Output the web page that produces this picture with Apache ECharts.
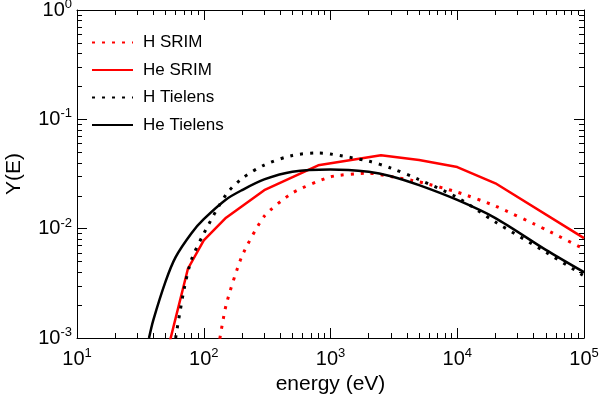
<!DOCTYPE html>
<html>
<head>
<meta charset="utf-8">
<script src="https://cdn.jsdelivr.net/npm/echarts@6/dist/echarts.min.js"></script>
<style>
  html, body { margin: 0; padding: 0; background: #fff; }
  #chart { width: 600px; height: 395px; }
</style>
</head>
<body>
<div id="chart"></div>
<script>
// energies (eV) and sputtering yields
const hSrimE = [130, 150, 200, 300, 500, 1000, 2000, 3000, 5000, 10000, 20000, 50000, 100000]
const hSrimY = [0.0008, 0.002, 0.0056, 0.013, 0.0212, 0.0298, 0.0322, 0.0300, 0.0268, 0.0216, 0.0161, 0.0098, 0.0065]

const heSrimE = [50, 75, 100, 150, 300, 800, 2500, 5000, 10000, 20000, 100000]
const heSrimY = [0.00065, 0.0043, 0.0078, 0.0126, 0.0225, 0.038, 0.047, 0.0425, 0.0366, 0.026, 0.0082]

const hTielensE = [60, 70, 80, 100, 150, 200, 300, 500, 800, 1000, 2000, 3000, 5000, 10000, 20000, 50000, 100000]
const hTielensY = [0.001, 0.0028, 0.0052, 0.009, 0.0205, 0.0287, 0.0382, 0.0467, 0.0492, 0.0482, 0.0414, 0.0358, 0.0281, 0.0193, 0.0115, 0.0061, 0.0037]

const heTielensE = [37, 40, 50, 60, 80, 100, 150, 200, 300, 500, 1000, 2000, 3000, 5000, 10000, 20000, 50000, 100000]
const heTielensY = [0.001, 0.00146, 0.0033, 0.0055, 0.0091, 0.0122, 0.0185, 0.0225, 0.0282, 0.0332, 0.0348, 0.0331, 0.0302, 0.025, 0.0183, 0.0125, 0.0064, 0.004]

// axis ticks
const xMajor = [10, 100, 1000, 10000, 100000]
const yMajor = [0.001, 0.01, 0.1, 1]

const font = 'Liberation Sans, Arial, Helvetica, sans-serif'
const red = '#ff0000'
const black = '#000000'

function minorsOf(majors) {
	const out = []
	for (let i = 0; i < majors.length - 1; i++) {
		for (let k = 2; k <= 9; k++) out.push(+(majors[i] * k).toPrecision(3))
	}
	return out
}
const xMinor = minorsOf(xMajor)
const yMinor = minorsOf(yMajor)

const pairs = (xs, ys) => xs.map((x, i) => [x, ys[i]])

const rich = {
	b: { fontSize: 20, fontFamily: font, color: black },
	s: { fontSize: 13, fontFamily: font, color: black, padding: [0, 0, 11, 0] }
}
const powLabel = (v) => '{b|10}{s|' + Math.round(Math.log10(v)) + '}'

function makeAxis(kind, pos, values, len, labels) {
	const isX = kind === 'x'
	const ax = {
		type: 'log',
		logBase: 10,
		position: pos,
		min: isX ? 10 : 0.001,
		max: isX ? 100000 : 1,
		splitLine: { show: false },
		axisLine: { show: labels, lineStyle: { color: black, width: 1 } },
		axisTick: {
			show: true,
			inside: true,
			length: len,
			customValues: values,
			lineStyle: { color: black, width: 1 }
		},
		axisLabel: { show: false }
	}
	if (labels) {
		ax.axisLabel = {
			show: true,
			customValues: values,
			formatter: powLabel,
			rich: rich,
			margin: isX ? 9 : 5
		}
	}
	return ax
}

const xAxes = [
	makeAxis('x', 'bottom', xMajor, 10, true),
	makeAxis('x', 'bottom', xMinor, 5, false),
	makeAxis('x', 'top', xMajor, 10, false),
	makeAxis('x', 'top', xMinor, 5, false)
]
xAxes[2].axisLine.show = true
xAxes[0].name = 'energy (eV)'
xAxes[0].nameLocation = 'middle'
xAxes[0].nameGap = 32
xAxes[0].nameTextStyle = { fontSize: 21, fontFamily: font, color: black }

const yAxes = [
	makeAxis('y', 'left', yMajor, 10, true),
	makeAxis('y', 'left', yMinor, 5, false),
	makeAxis('y', 'right', yMajor, 10, false),
	makeAxis('y', 'right', yMinor, 5, false)
]
yAxes[2].axisLine.show = true
yAxes[0].name = 'Y(E)'
yAxes[0].nameLocation = 'middle'
yAxes[0].nameGap = 52
yAxes[0].nameTextStyle = { fontSize: 21, fontFamily: font, color: black }

function line(name, data, color, dotted, smooth) {
	return {
		name: name,
		type: 'line',
		data: data,
		symbol: 'none',
		smooth: smooth,
		clip: true,
		lineStyle: {
			color: color,
			width: dotted ? 3 : 2.5,
			type: dotted ? [3, 7] : 'solid'
		},
		itemStyle: { color: color }
	}
}

const chart = echarts.init(document.getElementById('chart'), null, { renderer: 'canvas' })
chart.setOption({
	animation: false,
	grid: { left: 77, right: 16, top: 10, bottom: 57, containLabel: false, outerBoundsMode: 'none' },
	legend: {
		orient: 'vertical',
		left: 86,
		top: 29,
		itemWidth: 41,
		itemHeight: 14,
		itemGap: 10.5,
		itemStyle: { color: 'rgba(0,0,0,0)', borderWidth: 0, opacity: 0 },
		textStyle: { fontSize: 17, fontFamily: font, color: black, padding: [0, 0, 0, 5] },
		data: ['H SRIM', 'He SRIM', 'H Tielens', 'He Tielens']
	},
	xAxis: xAxes,
	yAxis: yAxes,
	series: [
		line('H SRIM', pairs(hSrimE, hSrimY), red, true, 0.2),
		line('He SRIM', pairs(heSrimE, heSrimY), red, false, false),
		line('H Tielens', pairs(hTielensE, hTielensY), black, true, 0.3),
		line('He Tielens', pairs(heTielensE, heTielensY), black, false, 0.3)
	]
})
</script>
</body>
</html>
